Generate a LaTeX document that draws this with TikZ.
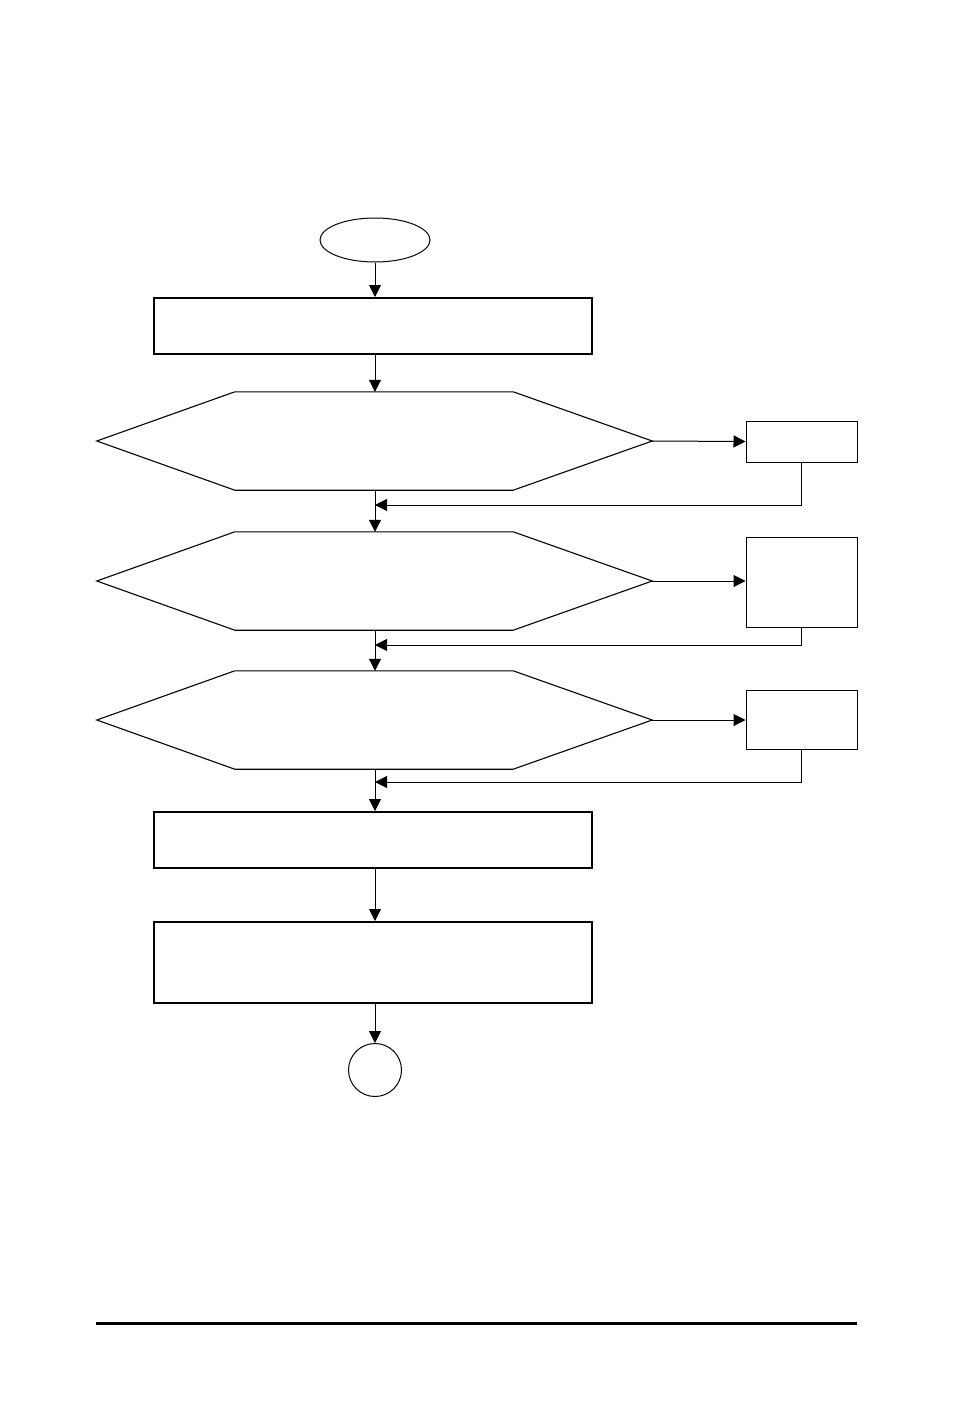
\documentclass[tikz,border=0pt]{standalone}
\usepackage{tikz}
\usetikzlibrary{arrows.meta,shapes.geometric}

% hexagon drawn round an invisible decision node
\newcommand{\hexdraw}[1]{%
  \draw[line width=1.1pt] (#1.west) -- ([xshift=138pt]#1.north west) -- ([xshift=-139pt]#1.north east)
    -- (#1.east) -- ([xshift=-139pt]#1.south east) -- ([xshift=138pt]#1.south west) -- cycle;}

\begin{document}
\begin{tikzpicture}[x=1pt, y=-1pt,
    conn/.style={line width=1pt, -{Triangle[length=12pt,width=12pt]}},
    stepbox/.style={draw, line width=2pt, rectangle, minimum width=438pt, inner sep=0pt},
    sidebox/.style={draw, line width=1pt, rectangle, minimum width=111pt, inner sep=0pt},
    decision/.style={rectangle, minimum width=555pt, minimum height=98pt, inner sep=0pt},
    terminal/.style={draw, line width=1pt, ellipse, minimum width=110pt, minimum height=44pt, inner sep=0pt}]
  \useasboundingbox (0,0) rectangle (954,1418);
  \fill[white] (0,0) rectangle (954,1418);

  % Start
  \node[terminal] (start) at (375,240) {};
  \node[stepbox, minimum height=56pt] (s1) at (372.5,326) {};

  % Decisions
  \node[decision] (d1) at (374.5,441) {};
  \node[decision] (d2) at (374.5,581) {};
  \node[decision] (d3) at (374.5,720) {};
  \hexdraw{d1}
  \hexdraw{d2}
  \hexdraw{d3}

  % Side boxes
  \node[sidebox, minimum height=41pt] (b1) at (801.5,441.5) {};
  \node[sidebox, minimum height=90pt] (b2) at (801.5,582) {};
  \node[sidebox, minimum height=59pt] (b3) at (801.5,719.5) {};

  % Lower steps
  \node[stepbox, minimum height=56pt] (s2) at (372.5,840) {};
  \node[stepbox, minimum height=81pt] (s3) at (372.5,962.5) {};
  \node[draw, line width=1pt, circle, minimum size=53pt, inner sep=0pt] (stop) at (375,1070) {};

  % Return points
  \coordinate (j1) at (375,505);
  \coordinate (j2) at (375,645);
  \coordinate (j3) at (375,782);

  % Main flow
  \draw[conn] (start.south) -- (s1.north -| start.south);
  \draw[conn] (s1.south -| start.south) -- (d1.north -| start.south);
  \draw[conn] (d1.south -| start.south) -- (d2.north -| start.south);
  \draw[conn] (d2.south -| start.south) -- (d3.north -| start.south);
  \draw[conn] (d3.south -| start.south) -- (s2.north -| start.south);
  \draw[conn] (s2.south -| start.south) -- (s3.north -| start.south);
  \draw[conn] (s3.south -| start.south) -- (stop.north);

  % Branches
  \draw[conn] (d1.east) -- (b1.west);
  \draw[conn] (d2.east) -- (b2.west |- d2.east);
  \draw[conn] (d3.east) -- (b3.west |- d3.east);
  \draw[conn] (b1.south) |- (j1);
  \draw[conn] (b2.south) |- (j2);
  \draw[conn] (b3.south) |- (j3);

  % Footer rule
  \draw[line width=3pt] (96,1323) -- (857,1323);
\end{tikzpicture}
\end{document}
